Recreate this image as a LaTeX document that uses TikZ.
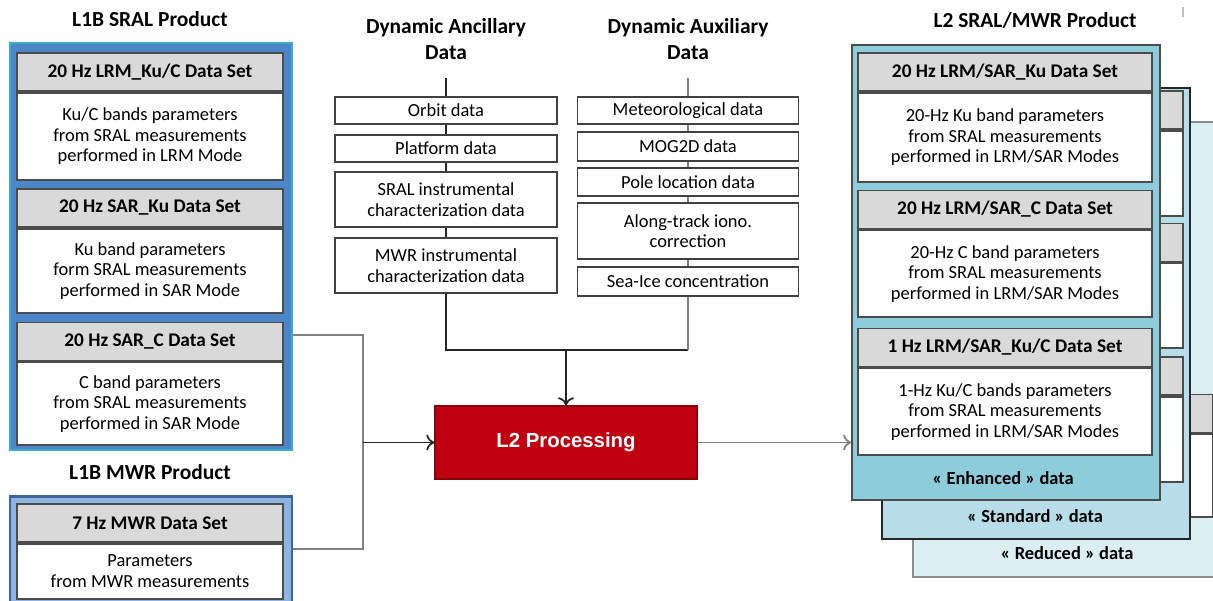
\documentclass[tikz,border=0pt]{standalone}
\usepackage{fontspec}
\setmainfont{Carlito}
\newfontfamily\procfont{Liberation Sans}
\usepackage{tikz}
\usetikzlibrary{arrows.meta}

\definecolor{sralblue}{HTML}{4A86C8}
\definecolor{sralrim}{HTML}{3FA9C9}
\definecolor{mwrblue}{HTML}{8EB4E3}
\definecolor{mwrrim}{HTML}{3F6596}
\definecolor{enhcol}{HTML}{8DCDDB}
\definecolor{stdcol}{HTML}{B7DEE8}
\definecolor{redcol}{HTML}{DBEEF3}
\definecolor{procred}{HTML}{C00010}

\tikzset{
  sethead/.style={draw=black!70, fill=black!15, line width=1pt, minimum height=0.76cm,
    inner sep=0pt, font=\bfseries\fontsize{11}{12}\selectfont},
  setbody/.style={draw=black!70, fill=white, line width=1pt, anchor=north, align=center,
    inner sep=0pt, font=\fontsize{10.5}{11.6}\selectfont},
  databox/.style={draw=black!75, fill=white, line width=0.8pt, align=center, inner sep=0pt,
    font=\fontsize{10.5}{11.6}\selectfont},
  title/.style={align=center, font=\bfseries\fontsize{12.2}{14.7}\selectfont},
  link/.style={draw=black!85, line width=1pt},
  greylink/.style={draw=black!50, line width=1pt},
  feed/.style={-{To[length=1.6mm,width=3.2mm]}},
}

\begin{document}
\begin{tikzpicture}[x=0.02cm,y=-0.02cm]
\useasboundingbox (0,0) rectangle (1213,601);

% L1B SRAL product
\node[title] (sraltitle) at (150,19) {L1B SRAL Product};
\node[draw=sralrim, fill=sralblue, line width=1.6pt, minimum width=5.64cm, minimum height=8.14cm] (sral) at (151,246.5) {};
\foreach \y/\nm/\hd/\bh/\bd in {
  72/lrmkuc/{20 Hz LRM\_Ku/C Data Set}/1.74/{Ku/C bands parameters\\from SRAL measurements\\performed in LRM Mode},
  208/sarku/{20 Hz SAR\_Ku Data Set}/1.68/{Ku band parameters\\form SRAL measurements\\performed in SAR Mode},
  341.5/sarc/{20 Hz SAR\_C Data Set}/1.66/{C band parameters\\from SRAL measurements\\performed in SAR Mode}} {
  \node[sethead, minimum width=5.32cm] (\nm-h) at (150,\y) {\hd};
  \node[setbody, minimum width=5.32cm, minimum height=\bh cm] (\nm-b) at (\nm-h.south) {\bd};
}

% L1B MWR product
\node[title] (mwrtitle) at (150,472) {L1B MWR Product};
\node[draw=mwrrim, fill=mwrblue, line width=1.2pt, minimum width=5.64cm, minimum height=2.3cm] (mwr) at (151,554) {};
\node[sethead, minimum width=5.32cm] (mwr-h) at (150,523) {7 Hz MWR Data Set};
\node[setbody, minimum width=5.32cm, minimum height=1.1cm] (mwr-b) at (mwr-h.south) {Parameters\\from MWR measurements};

% dynamic ancillary data
\node[title] (anctitle) at (446,39) {Dynamic Ancillary\\Data};
\coordinate (anctop) at (446,78);
\node[databox, minimum width=4.44cm, minimum height=0.54cm] (orbit) at (446,110.5) {Orbit data};
\node[databox, minimum width=4.44cm, minimum height=0.54cm] (platform) at (446,148.5) {Platform data};
\node[databox, minimum width=4.44cm, minimum height=1.1cm] (sralchar) at (446,199.5) {SRAL instrumental\\characterization data};
\node[databox, minimum width=4.44cm, minimum height=1.1cm] (mwrchar) at (446,265.5) {MWR instrumental\\characterization data};
\draw[link] (anctop) -- (orbit.north);
\foreach \a/\b in {orbit/platform, platform/sralchar, sralchar/mwrchar}
  \draw[link] (\a.south) -- (\b.north);

% dynamic auxiliary data
\node[title] (auxtitle) at (688,39) {Dynamic Auxiliary\\Data};
\coordinate (auxtop) at (688,78);
\node[databox, minimum width=4.42cm, minimum height=0.54cm] (meteo) at (688,110.5) {Meteorological data};
\node[databox, minimum width=4.42cm, minimum height=0.58cm] (mog) at (688,146.5) {MOG2D data};
\node[databox, minimum width=4.42cm, minimum height=0.56cm] (pole) at (688,182) {Pole location data};
\node[databox, minimum width=4.42cm, minimum height=1.12cm] (iono) at (688,231) {Along-track iono.\\correction};
\node[databox, minimum width=4.42cm, minimum height=0.58cm] (seaice) at (688,281.5) {Sea-Ice concentration};
\draw[greylink] (auxtop) -- (meteo.north);
\foreach \a/\b in {meteo/mog, mog/pole, pole/iono, iono/seaice}
  \draw[greylink] (\a.south) -- (\b.north);

% L2 processing
\node[draw=procred!70!black, fill=procred, line width=0.8pt, minimum width=5.24cm, minimum height=1.46cm,
  text=white, font=\procfont\bfseries\fontsize{11.6}{13}\selectfont] (l2) at (566,442.5) {L2 Processing};
\coordinate (ancjoin) at (446,350);
\coordinate (auxjoin) at (688,350);
\draw[link] (mwrchar.south) -- (ancjoin) -- (auxjoin);
\draw[greylink] (seaice.south) -- (auxjoin);
\draw[link, feed] (l2.north |- ancjoin) -- (l2.north);

% L1B inputs
\coordinate (sralout) at (sral.east |- 0,335);
\coordinate (mwrout) at (mwr.east |- 0,549);
\coordinate (join) at (363,442.5);
\draw[greylink] (sralout) -| (join) |- (mwrout);
\draw[link, feed] (join) -- (l2.west);

% L2 SRAL/MWR product: reduced, standard, enhanced
\node[title] (l2title) at (1035,20) {L2 SRAL/MWR Product};
\draw[black!25, line width=0.8pt] (1183,7) -- (1183,17);
\node[draw=black!45, fill=redcol, line width=1pt, minimum width=6.16cm, minimum height=9.1cm] (red) at (1067,349.5) {};
\node[sethead, minimum width=5.88cm] (red-h) at (1066,413.5) {};
\node[setbody, minimum width=5.88cm, minimum height=1.66cm] (red-b) at (red-h.south) {};
\node[font=\bfseries\fontsize{10.5}{12}\selectfont] (redtext) at (1067,553) {« Reduced » data};

\node[draw=black!85, fill=stdcol, line width=1pt, minimum width=6.16cm, minimum height=9.02cm] (std) at (1036,313.5) {};
\foreach \y/\nm in {110/s1, 242.5/s2, 376/s3} {
  \node[sethead, minimum width=5.9cm] (\nm-h) at (1035.5,\y) {};
  \node[setbody, minimum width=5.9cm, minimum height=1.7cm] (\nm-b) at (\nm-h.south) {};
}
\node[font=\bfseries\fontsize{10.5}{12}\selectfont] (stdtext) at (1035,516) {« Standard » data};

\node[draw=black!70, fill=enhcol, line width=1pt, minimum width=6.16cm, minimum height=9.1cm] (enh) at (1006,272.5) {};
\foreach \y/\nm/\hd/\bh/\bd in {
  72/lsku/{20 Hz LRM/SAR\_Ku Data Set}/1.78/{20-Hz Ku band parameters\\from SRAL measurements\\performed in LRM/SAR Modes},
  209.5/lsc/{20 Hz LRM/SAR\_C Data Set}/1.74/{20-Hz C band parameters\\from SRAL measurements\\performed in LRM/SAR Modes},
  347.5/lskuc/{1 Hz LRM/SAR\_Ku/C Data Set}/1.74/{1-Hz Ku/C bands parameters\\from SRAL measurements\\performed in LRM/SAR Modes}} {
  \node[sethead, minimum width=5.88cm] (\nm-h) at (1005,\y) {\hd};
  \node[setbody, minimum width=5.88cm, minimum height=\bh cm] (\nm-b) at (\nm-h.south) {\bd};
}
\node[font=\bfseries\fontsize{10.5}{12}\selectfont] (enhtext) at (1003,478) {« Enhanced » data};

\draw[greylink, feed] (l2.east) -- (enh.west |- l2.east);
\end{tikzpicture}
\end{document}
